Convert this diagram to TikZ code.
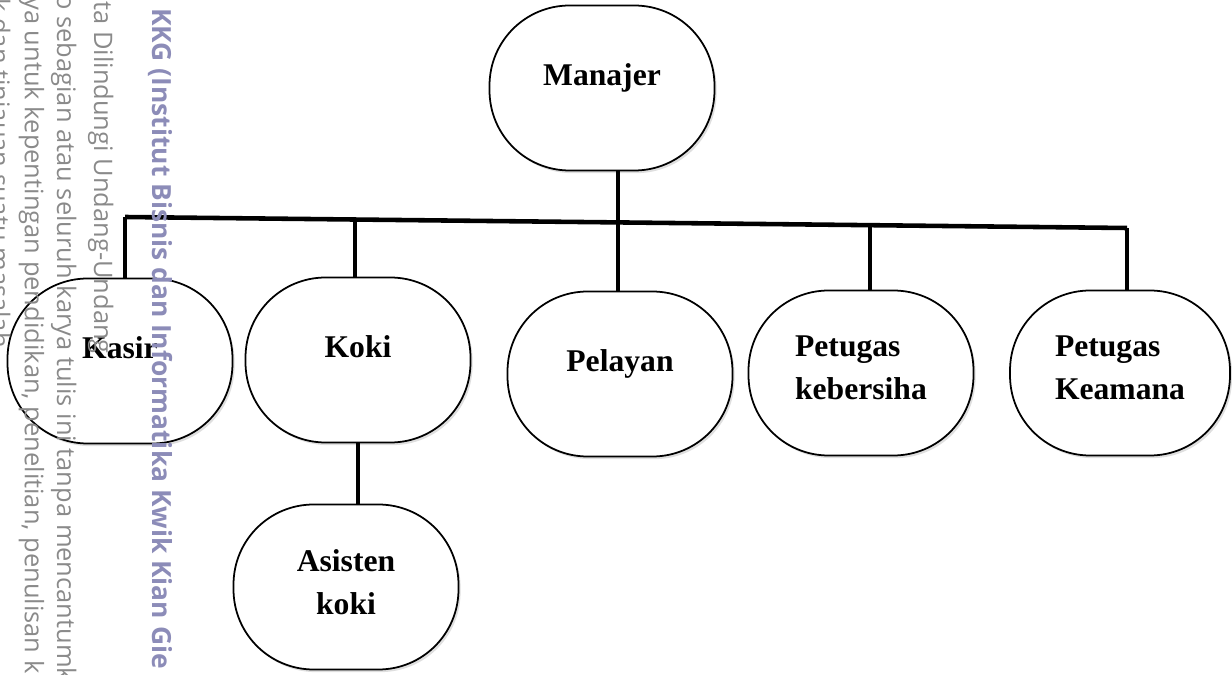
\documentclass[tikz,border=0pt]{standalone}
\usepackage{fontspec}
\setmainfont{Liberation Serif}
\newfontfamily\wmfont{Open Sans}
\usetikzlibrary{positioning, calc, shadows}
\definecolor{wmgray}{HTML}{8A8A8A}
\definecolor{wmblue}{HTML}{8C8CB8}
\tikzset{
  unit/.style={draw, fill=white, line width=1pt, rounded corners=1.6cm,
    minimum width=4.5cm, minimum height=3.3cm,
    font=\fontsize{18}{24.4}\selectfont\bfseries,
    drop shadow={shadow xshift=1.2pt, shadow yshift=-1.5pt, opacity=0.25}},
  oneline/.style={text depth=0.55cm},
  lbl/.style={align=#1, yshift=0.1cm,
    font=\fontsize{18}{24.4}\selectfont\bfseries},
  link/.style={line width=2.6pt},
  wm/.style={rotate=-90, anchor=base west, inner sep=0pt, text=wmgray,
    font=\wmfont\fontsize{14.5}{16}\selectfont},
  wmhead/.style={wm, text=wmblue, font=\wmfont\bfseries\fontsize{15}{16}\selectfont}
}
\begin{document}
\begin{tikzpicture}[x=0.02cm, y=-0.02cm]
  \clip (0,0) rectangle (1232,675);
  % units
  \node[unit, oneline] (manajer) at (602,88) {Manajer};
  \node[unit, oneline] (kasir) at (120,361) {Kasir};
  \node[unit, oneline] (koki) at (358,360) {Koki};
  \node[unit, oneline] (pelayan) at (620,374) {Pelayan};
  \node[unit, label={[lbl=left]center:Petugas\\kebersiha}] (bersih) at (861,373) {};
  \node[unit, minimum width=4.4cm, label={[lbl=left]center:Petugas\\Keamana}] (aman) at (1120,373) {};
  \node[unit, label={[lbl=center]center:Asisten\\koki}] (asisten) at (346,587) {};
  % bus
  \coordinate (busL) at (125,217);
  \coordinate (busR) at (1127,228);
  \coordinate (jKoki) at ($(busL)!0.2295!(busR)$);
  \coordinate (jMan) at ($(busL)!0.492!(busR)$);
  \coordinate (jBersih) at ($(busL)!0.7435!(busR)$);
  \draw[link] (busL) -- (busR);
  \draw[link] (jMan |- manajer.south) -- (jMan);
  \draw[link] (busL) -- (busL |- kasir.north);
  \draw[link] (jKoki) -- (jKoki |- koki.north);
  \draw[link] (jMan) -- (jMan |- pelayan.north);
  \draw[link] (jBersih) -- (jBersih |- bersih.north);
  \draw[link] (busR) -- (busR |- aman.north);
  \draw[link] (koki.south) -- (koki.south |- asisten.north);
  % watermark
  \node[wmhead] (wm0) at (152,8) {KKG (Institut Bisnis dan Informatika Kwik Kian Gie};
  \node[wm] (wm1) at (94,1) {ta Dilindungi Undang-Undang};
  \node[wm] (wm2) at (57,-6) {o sebagian atau seluruh karya tulis ini tanpa mencantumk};
  \node[wm] (wm3) at (25,-3) {ya untuk kepentingan pendidikan, penelitian, penulisan k};
  \node[wm] (wm4) at (-9,-2) {k dan tinjauan suatu masalah};
\end{tikzpicture}
\end{document}
